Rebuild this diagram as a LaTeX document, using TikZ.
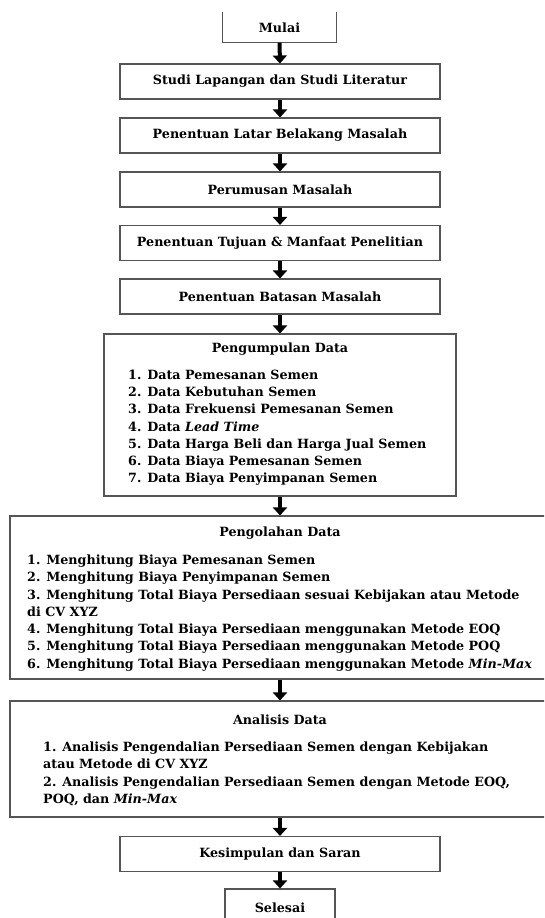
\documentclass[tikz,border=0pt]{standalone}
\usepackage{fontspec}
\setmainfont{DejaVu Serif}
\usetikzlibrary{arrows.meta}
\definecolor{boxgray}{RGB}{85,85,85}
\tikzset{
  stepbox/.style={draw=boxgray,line width=1.1pt,minimum width=320pt,minimum height=35pt,inner sep=0pt},
  listtext/.style={anchor=north west,align=left,inner sep=0pt},
  flowarrow/.style={line width=4pt,-{Triangle[width=14pt,length=8pt]}}
}
\newcommand{\stepnode}[3]{%
  \node[stepbox] (#1) at (280,#2) {#3};
}

\begin{document}
\begin{tikzpicture}[x=1pt,y=-1pt,font={\fontsize{12.7}{17.3}\selectfont\bfseries}]
  \useasboundingbox (0,0) rectangle (544,918);
  \clip (0,0) rectangle (544,918);
  \coordinate (axis) at (280,0);
  % start, open at the top
  \node[minimum width=113pt,minimum height=30pt,inner sep=0pt] (mulai) at (279.5,27.5) {Mulai};
  \draw[boxgray,line width=1.1pt] (mulai.north west) |- (mulai.south east) -- (mulai.north east);
  \stepnode{studi}{81.5}{Studi Lapangan dan Studi Literatur}
  \stepnode{latar}{135.5}{Penentuan Latar Belakang Masalah}
  \stepnode{rumusan}{189.5}{Perumusan Masalah}
  \stepnode{tujuan}{243}{Penentuan Tujuan \& Manfaat Penelitian}
  \stepnode{batasan}{296.5}{Penentuan Batasan Masalah}
  % data collection
  \node[stepbox,minimum width=352pt,minimum height=162pt] (kumpul) at (280,415) {};
  \node (kumpultitle) at (280,349) {Pengumpulan Data};
  \node[listtext] (kumpullist) at (128,369.5) {1. Data Pemesanan Semen\\
    2. Data Kebutuhan Semen\\
    3. Data Frekuensi Pemesanan Semen\\
    4. Data \textit{Lead Time}\\
    5. Data Harga Beli dan Harga Jual Semen\\
    6. Data Biaya Pemesanan Semen\\
    7. Data Biaya Penyimpanan Semen};
  % data processing, cut at the right
  \node[stepbox,minimum width=550pt,minimum height=163pt] (olah) at (285,597.5) {};
  \node (olahtitle) at (280,533) {Pengolahan Data};
  \node[listtext] (olahlist) at (27,554.6) {1. Menghitung Biaya Pemesanan Semen\\
    2. Menghitung Biaya Penyimpanan Semen\\
    3. Menghitung Total Biaya Persediaan sesuai Kebijakan atau Metode\\
    di CV XYZ\\
    4. Menghitung Total Biaya Persediaan menggunakan Metode EOQ\\
    5. Menghitung Total Biaya Persediaan menggunakan Metode POQ\\
    6. Menghitung Total Biaya Persediaan menggunakan Metode \textit{Min-Max}};
  % analysis
  \node[stepbox,minimum width=550pt,minimum height=116pt] (analisis) at (285,759) {};
  \node (analisistitle) at (280,720) {Analisis Data};
  \node[listtext] (analisislist) at (43,741.6) {1. Analisis Pengendalian Persediaan Semen dengan Kebijakan\\
    atau Metode di CV XYZ\\
    2. Analisis Pengendalian Persediaan Semen dengan Metode EOQ,\\
    POQ, dan \textit{Min-Max}};
  \stepnode{simpulan}{854}{Kesimpulan dan Saran}
  % end, cut at the bottom
  \node[stepbox,minimum width=110pt,minimum height=38pt] (selesai) at (280,908) {Selesai};
  % arrows
  \draw[flowarrow] (mulai.south) -- (studi.north);
  \draw[flowarrow] (studi.south) -- (latar.north);
  \draw[flowarrow] (latar.south) -- (rumusan.north);
  \draw[flowarrow] (rumusan.south) -- (tujuan.north);
  \draw[flowarrow] (tujuan.south) -- (batasan.north);
  \draw[flowarrow] (batasan.south) -- (kumpul.north);
  \draw[flowarrow] (kumpul.south) -- (olah.north -| axis);
  \draw[flowarrow] (olah.south -| axis) -- (analisis.north -| axis);
  \draw[flowarrow] (analisis.south -| axis) -- (simpulan.north);
  \draw[flowarrow] (simpulan.south) -- (selesai.north);
\end{tikzpicture}
\end{document}
